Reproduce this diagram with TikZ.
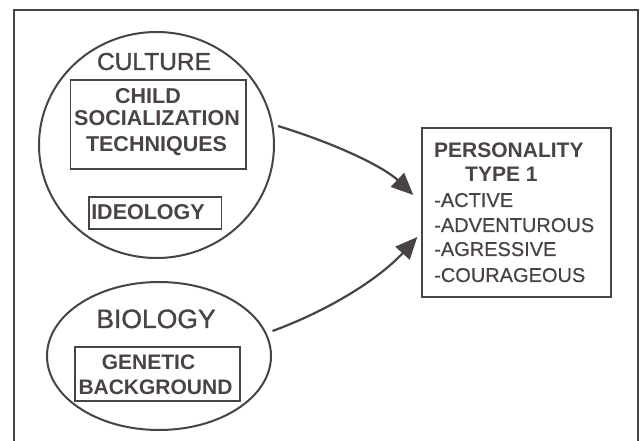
\documentclass[tikz,border=0pt]{standalone}
\usepackage{fontspec}
\setmainfont{Liberation Sans}
\newfontfamily\medfont[FakeBold=1.2]{Liberation Sans}
\newfontfamily\thinfont[FakeBold=0.5]{Liberation Sans}
\usetikzlibrary{shapes.geometric,arrows.meta,calc}
\definecolor{ink}{HTML}{4A4343}
\tikzset{
  lbl/.style={text=ink,inner sep=0pt,font=#1},
  sbox/.style={draw=ink,line width=1.4pt,inner sep=0pt,rectangle},
  oval/.style={draw=ink,line width=2pt,ellipse,inner sep=0pt},
  link/.style={draw=ink,line width=2.2pt,-{Triangle[length=22pt,width=19pt]}}
}
\newcommand{\fs}[1]{\fontsize{#1}{#1}\selectfont}
\begin{document}
\begin{tikzpicture}[x=1pt,y=-1pt]
\useasboundingbox (0,0) rectangle (641,441);
\fill[white] (0,0) rectangle (641,441);
% frame
\draw[ink,line width=1.4pt] (14,470) -- (14,10) -- (638,10) -- (638,470);
% culture
\node[oval,minimum width=235pt,minimum height=226pt] (culture) at (156.5,145) {};
\node[lbl=\medfont\fs{24.5},anchor=base] (cultlbl) at (154,70) {CULTURE};
\node[sbox,minimum width=175.5pt,minimum height=89pt] (childbox) at (158.25,124.5) {};
\node[lbl=\bfseries\fs{21.5},anchor=base] (child) at (148,104) {CHILD};
\node[lbl=\bfseries\fs{21.5},anchor=base] (social) at (157,126) {SOCIALIZATION};
\node[lbl=\bfseries\fs{21.5},anchor=base] (tech) at (156.5,152) {TECHNIQUES};
\node[sbox,minimum width=132.5pt,minimum height=32pt] (ideobox) at (155.25,213) {};
\node[lbl=\bfseries\fs{21.5},anchor=base] (ideo) at (148,220) {IDEOLOGY};
% biology
\node[oval,minimum width=224pt,minimum height=148pt] (biology) at (159,356) {};
\node[lbl=\medfont\fs{26.5},anchor=base] (biolbl) at (156,328) {BIOLOGY};
\node[sbox,minimum width=165pt,minimum height=54pt] (genbox) at (157.5,374) {};
\node[lbl=\bfseries\fs{21},anchor=base] (gen) at (148.5,370) {GENETIC};
\node[lbl=\bfseries\fs{21},anchor=base] (back) at (155.5,394) {BACKGROUND};
% personality
\node[sbox,minimum width=189pt,minimum height=169pt] (pbox) at (516.5,212.5) {};
\node[lbl=\bfseries\fs{21},anchor=base west] (pers) at (434,158) {PERSONALITY};
\node[lbl=\bfseries\fs{21},anchor=base west] (type) at (465,182) {TYPE 1};
\node[lbl=\thinfont\fs{20},anchor=base west] (l1) at (434,207) {-ACTIVE};
\node[lbl=\thinfont\fs{20},anchor=base west] (l2) at (434,232) {-ADVENTUROUS};
\node[lbl=\thinfont\fs{20},anchor=base west] (l3) at (434,256) {-AGRESSIVE};
\node[lbl=\thinfont\fs{20},anchor=base west] (l4) at (434,282) {-COURAGEOUS};
% arrows
\coordinate (s1) at ($(culture.center)+(121.5,-19)$);
\coordinate (e1) at ($(pbox.west)+(-8,-17.5)$);
\coordinate (s2) at ($(biology.center)+(113.5,-25)$);
\coordinate (e2) at ($(pbox.west)+(-4,24.5)$);
\draw[link] (s1) .. controls (340,145) and (385,168) .. (e1);
\draw[link] (s2) .. controls (330,310) and (380,278) .. (e2);
\end{tikzpicture}
\end{document}
